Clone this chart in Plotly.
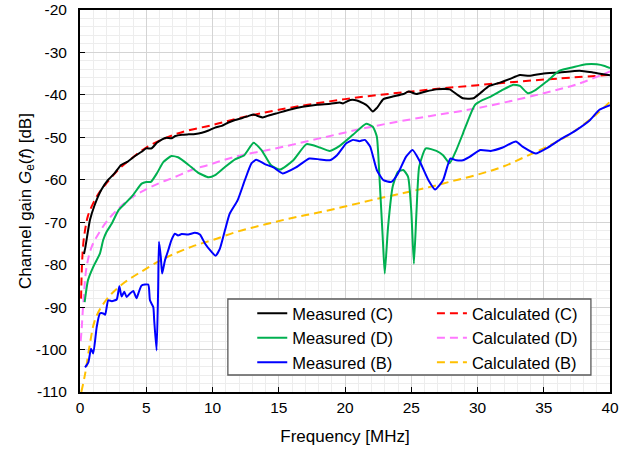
import plotly.graph_objects as go

# ---------------- data ----------------
meas_c_x = [0.3, 0.4, 0.75, 1.1, 1.6, 2.1, 2.6, 3.1, 3.6, 4.15, 4.65, 5.0, 5.4, 5.8, 6.2, 6.5, 6.9, 7.2, 7.7, 8.2,
            8.7, 9.2, 9.7, 10.2, 10.7, 11.2, 11.7, 12.2, 12.7, 13.1, 13.45, 13.8, 14.3, 14.8, 15.8, 16.8, 17.9, 18.9,
            19.6, 19.85, 20.4, 20.9, 21.4, 21.7, 22.1, 22.4, 22.9, 23.6, 24.4, 24.8, 25.4, 26.1, 26.9, 27.9, 28.4,
            28.9, 29.4, 29.7, 30.2, 30.9, 31.7, 32.4, 33.2, 33.9, 34.9, 36.2, 37.7, 38.7, 40.0]
meas_c_y = [-77.5, -76.0, -69.5, -66.0, -62.4, -60.1, -58.5, -56.5, -55.7, -54.4, -53.4, -52.6, -52.6, -51.3, -50.5,
            -50.1, -50.2, -49.7, -49.4, -49.3, -49.2, -48.9, -48.4, -47.7, -47.3, -46.5, -45.9, -45.5, -45.0, -44.6,
            -45.0, -45.3, -44.8, -44.4, -43.5, -42.8, -42.3, -42.1, -41.8, -42.0, -41.2, -41.3, -42.0, -42.6, -43.9,
            -43.1, -41.0, -40.4, -39.8, -39.2, -39.8, -39.2, -38.7, -38.7, -39.8, -40.8, -40.9, -40.8, -39.6, -37.9,
            -37.1, -36.3, -35.3, -35.5, -35.0, -34.7, -34.3, -34.7, -35.4]

meas_d_x = [0.35, 0.6, 1.0, 1.5, 1.75, 2.0, 2.4, 2.9, 3.4, 4.0, 4.65, 5.0, 5.35, 5.8, 6.3, 6.9, 7.4, 8.2, 8.9, 9.7,
            10.2, 10.9, 11.7, 12.4, 13.1, 13.7, 14.4, 15.1, 16.1, 17.1, 18.1, 18.85, 19.6, 20.6, 21.6, 22.1, 22.4,
            22.6, 22.87, 23.0, 23.25, 23.6, 24.0, 24.4, 24.76, 25.0, 25.2, 25.4, 25.6, 26.1, 26.9, 27.4, 27.9, 28.4,
            28.9, 29.4, 29.8, 30.4, 31.0, 31.8, 32.7, 33.2, 33.8, 34.4, 35.2, 36.2, 37.2, 38.2, 39.0, 39.6, 40.0]
meas_d_y = [-88.8, -83.7, -80.5, -77.4, -74.2, -72.3, -70.3, -67.2, -65.6, -63.6, -60.9, -60.5, -60.5, -58.5, -55.8,
            -54.4, -54.7, -56.5, -58.3, -59.4, -58.9, -57.1, -55.2, -54.2, -51.3, -53.0, -56.5, -57.6, -55.4, -51.6,
            -52.4, -53.2, -52.0, -49.4, -46.8, -47.5, -49.8, -59.3, -75.0, -82.1, -71.1, -61.6, -58.1, -57.7, -59.3,
            -67.2, -79.8, -67.2, -56.9, -52.6, -53.2, -54.2, -56.1, -53.0, -49.1, -45.1, -42.4, -41.2, -40.4, -39.0,
            -37.6, -37.9, -39.6, -38.8, -36.9, -34.3, -33.5, -32.8, -32.8, -33.2, -33.7]

meas_b_x = [0.38, 0.63, 0.83, 1.0, 1.26, 1.5, 1.76, 1.9, 2.13, 2.4, 2.77, 2.97, 3.14, 3.34, 3.52, 3.77, 4.02, 4.27,
            4.4, 4.65, 5.15, 5.28, 5.53, 5.6, 5.78, 5.9, 5.96, 6.1, 6.2, 6.41, 6.66, 6.9, 7.16, 7.4, 7.67, 8.17, 8.67,
            9.05, 9.43, 9.93, 10.23, 10.56, 10.94, 11.3, 11.9, 12.44, 12.95, 13.3, 13.95, 14.6, 15.3, 16.3, 17.3,
            18.1, 18.85, 19.4, 20.1, 20.6, 21.1, 21.5, 21.9, 22.4, 22.9, 23.5, 24.0, 24.6, 25.1, 25.6, 26.3, 26.8,
            27.4, 27.95, 28.4, 28.9, 29.4, 30.2, 31.0, 31.9, 32.9, 33.4, 34.4, 35.2, 36.2, 37.4, 38.5, 39.2, 40.0]
meas_b_y = [-104.2, -103.0, -99.8, -100.9, -94.7, -91.5, -91.5, -91.8, -88.4, -88.6, -88.2, -85.1, -87.5, -86.4,
            -87.6, -86.8, -86.2, -87.9, -86.8, -84.9, -84.7, -88.4, -90.0, -93.1, -100.2, -85.3, -74.6, -78.2, -82.1,
            -79.0, -76.6, -74.2, -72.7, -73.1, -72.8, -72.9, -72.5, -72.9, -75.0, -77.0, -77.9, -76.2, -71.9, -68.0,
            -64.8, -60.1, -56.1, -55.3, -56.3, -57.1, -58.5, -57.1, -55.0, -55.2, -55.4, -54.2, -51.4, -50.6, -50.9,
            -50.6, -52.2, -57.7, -60.1, -60.5, -58.5, -54.6, -53.0, -55.4, -60.1, -62.3, -60.1, -55.0, -55.4, -55.4,
            -54.6, -53.0, -53.2, -52.4, -51.0, -52.2, -53.8, -52.6, -50.6, -48.4, -45.9, -43.5, -42.4]

calc_c_x = [0.08, 0.15, 0.25, 0.4, 0.6, 1.0, 1.5, 2.0, 3.0, 4.0, 5.0, 6.0, 7.0, 8.0, 10.0, 12.0, 15.0, 20.0, 25.0,
            30.0, 35.0, 40.0]
calc_c_y = [-88.0, -80.0, -75.0, -71.5, -68.5, -65.5, -62.8, -60.8, -57.3, -54.7, -52.4, -50.8, -49.5, -48.5, -47.1,
            -45.5, -43.5, -41.0, -39.2, -37.7, -36.4, -35.3]

calc_d_x = [0.05, 0.13, 0.25, 0.5, 0.88, 1.4, 2.1, 2.9, 3.8, 4.65, 5.9, 7.2, 8.4, 9.7, 10.9, 12.2, 14.5, 18.0, 22.0,
            26.0, 29.5, 32.0, 35.0, 37.5, 40.0]
calc_d_y = [-98.0, -95.0, -89.0, -80.5, -75.8, -72.7, -69.5, -66.8, -64.4, -62.8, -60.9, -59.3, -57.7, -56.5, -55.3,
            -54.2, -52.8, -50.3, -47.5, -45.2, -43.4, -41.8, -39.6, -37.5, -34.5]

calc_b_x = [0.1, 0.4, 0.75, 1.1, 1.6, 2.4, 3.4, 4.6, 6.0, 7.0, 8.4, 10.0, 12.0, 14.0, 16.0, 18.0, 20.0, 22.0, 24.0,
            26.0, 28.0, 30.0, 32.0, 34.0, 35.0, 36.0, 37.0, 38.0, 39.0, 40.0]
calc_b_y = [-110.0, -105.5, -98.6, -93.3, -90.0, -86.8, -84.1, -81.7, -79.1, -77.6, -75.8, -74.2, -72.1, -70.5,
            -69.0, -67.7, -66.3, -64.8, -63.4, -62.0, -60.4, -58.8, -56.8, -54.0, -52.6, -51.0, -49.2, -47.0, -44.5,
            -41.6]

x_ticks = [0, 5, 10, 15, 20, 25, 30, 35, 40]
y_ticks = [-110, -100, -90, -80, -70, -60, -50, -40, -30, -20]

FONT = "Liberation Sans, Arial, sans-serif"
DASH = "8px,5px"
LEG_FONT = 16.5

fig = go.Figure()
# calculated (dashed) first so measured lines draw on top
fig.add_trace(go.Scatter(x=calc_c_x, y=calc_c_y, mode="lines", name="Calculated (C)", line_shape="spline",
                         line=dict(color="#FF0000", width=2, dash=DASH), legend="legend2"))
fig.add_trace(go.Scatter(x=calc_d_x, y=calc_d_y, mode="lines", name="Calculated (D)", line_shape="spline",
                         line=dict(color="#FF77FF", width=2, dash=DASH), legend="legend2"))
fig.add_trace(go.Scatter(x=calc_b_x, y=calc_b_y, mode="lines", name="Calculated (B)", line_shape="spline",
                         line=dict(color="#FFC000", width=2, dash=DASH), legend="legend2"))
fig.add_trace(go.Scatter(x=meas_c_x, y=meas_c_y, mode="lines", name="Measured (C)",
                         line=dict(color="#000000", width=2, shape="spline", smoothing=0.5), legend="legend"))
fig.add_trace(go.Scatter(x=meas_d_x, y=meas_d_y, mode="lines", name="Measured (D)",
                         line=dict(color="#00B050", width=2, shape="spline", smoothing=0.5), legend="legend"))
fig.add_trace(go.Scatter(x=meas_b_x, y=meas_b_y, mode="lines", name="Measured (B)",
                         line=dict(color="#0000FF", width=2, shape="spline", smoothing=0.5), legend="legend"))

box_x0, box_x1 = 0.279, 0.964
box_y0, box_y1 = 0.0445, 0.2435

fig.add_shape(type="rect", xref="paper", yref="paper", x0=box_x0, x1=box_x1, y0=box_y0, y1=box_y1,
              line=dict(color="#595959", width=1.3), fillcolor="white", layer="above")

leg_common = dict(font=dict(family=FONT, size=LEG_FONT, color="#000"), bgcolor="rgba(0,0,0,0)",
                  borderwidth=0, yanchor="top", xanchor="left", traceorder="normal",
                  tracegroupgap=0)

fig.update_layout(
    width=641, height=451,
    margin=dict(l=80, r=31, t=10, b=59, autoexpand=False),
    paper_bgcolor="white", plot_bgcolor="white",
    font=dict(family=FONT, size=15, color="#000"),
    showlegend=True,
    legend=dict(x=0.325, y=0.2513, **leg_common),
    legend2=dict(x=0.664, y=0.2513, **leg_common),
    xaxis=dict(range=[0, 40], tickvals=x_ticks, ticktext=[str(v) for v in x_ticks],
               showgrid=True, gridcolor="#D4D4D4", gridwidth=1.2,
               minor=dict(dtick=1, showgrid=True, gridcolor="#EDEDED", gridwidth=1),
               showline=True, linecolor="#000", linewidth=2, mirror=True,
               ticks="inside", ticklen=5, tickwidth=1.3, tickcolor="#000",
               tickfont=dict(family=FONT, size=15.5), zeroline=False, automargin=False,
               title=dict(text="Frequency [MHz]", font=dict(family=FONT, size=17), standoff=16)),
    yaxis=dict(range=[-110, -20], tickvals=y_ticks, ticktext=[str(v) for v in y_ticks],
               showgrid=True, gridcolor="#D4D4D4", gridwidth=1.2,
               minor=dict(dtick=2, showgrid=True, gridcolor="#EDEDED", gridwidth=1),
               showline=True, linecolor="#000", linewidth=2, mirror=True,
               ticks="inside", ticklen=5, tickwidth=1.3, tickcolor="#000",
               tickfont=dict(family=FONT, size=15.5), zeroline=False, ticklabelstandoff=8,
               automargin=False,
               title=dict(text="Channel gain <i>G</i><sub>e</sub>(<i>f</i>) [dB]",
                          font=dict(family=FONT, size=17), standoff=0)),
)

fig.write_html("out.html", config={"displayModeBar": False},
               post_script="document.body.style.margin='0px';")
